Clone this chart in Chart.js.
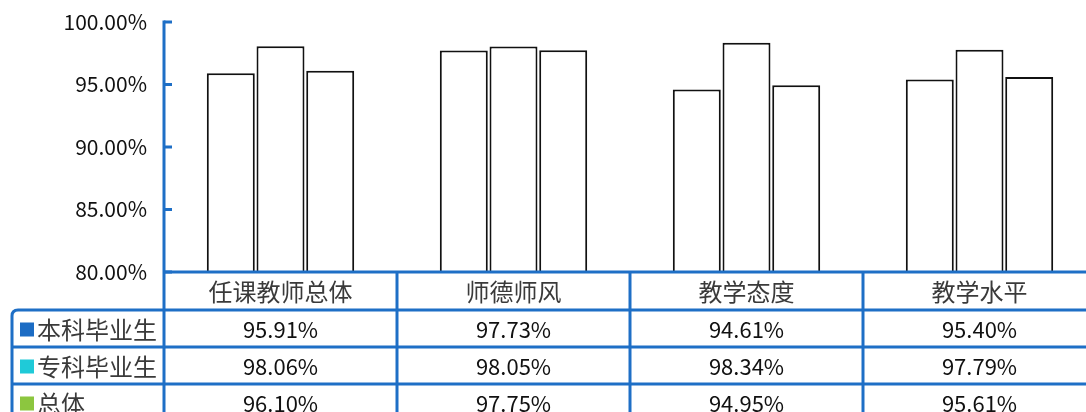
<!DOCTYPE html>
<html><head><meta charset="utf-8">
<script src="https://cdn.jsdelivr.net/npm/chart.js@4/dist/chart.umd.min.js"></script>
<style>
html,body{margin:0;padding:0;background:#fff;overflow:hidden;width:1086px;height:412px;}
#wrap{width:1100px;height:412px;position:relative;}
</style></head>
<body><div id="wrap"><canvas id="c"></canvas></div>
<script>
const categories = ['任课教师总体', '师德师风', '教学态度', '教学水平'];
const seriesNames = ['本科毕业生', '专科毕业生', '总体'];
const benke = [0.9591, 0.9773, 0.9461, 0.9540];
const zhuanke = [0.9806, 0.9805, 0.9834, 0.9779];
const zongti = [0.9610, 0.9775, 0.9495, 0.9561];
const legendColors = ['#1c6cc4', '#1fcad8', '#8cc63f'];
const yTicks = [0.80, 0.85, 0.90, 0.95, 1.00];

const BLUE = '#1e6fc6';
const FONT = '"Noto Sans CJK SC", "Liberation Sans", sans-serif';
const fmt = v => (v * 100).toFixed(2) + '%';

const tablePlugin = {
  id: 'dataTable',
  afterDraw(chart) {
    const ctx = chart.ctx;
    const ca = chart.chartArea;
    const x = chart.scales.x, y = chart.scales.y;
    const n = categories.length;
    const cw = (ca.right - ca.left) / n;
    const rowTop = ca.bottom;
    const headerH = 38, rowH = 37;
    const legLeft = 12;
    ctx.save();
    ctx.strokeStyle = BLUE;
    ctx.lineWidth = 3;
    ctx.lineCap = 'butt';
    ctx.beginPath();
    ctx.moveTo(ca.left, y.getPixelForValue(1.0) - 1.5);
    ctx.lineTo(ca.left, 412);
    ctx.stroke();
    yTicks.forEach(t => {
      const py = y.getPixelForValue(t);
      ctx.beginPath();
      ctx.moveTo(ca.left, py);
      ctx.lineTo(ca.left + 8, py);
      ctx.stroke();
    });
    ctx.beginPath();
    ctx.moveTo(ca.left, rowTop);
    ctx.lineTo(ca.right + 10, rowTop);
    ctx.stroke();
    for (let i = 1; i <= n; i++) {
      const px = ca.left + i * cw;
      ctx.beginPath();
      ctx.moveTo(px, rowTop);
      ctx.lineTo(px, 412);
      ctx.stroke();
    }
    for (let r = 0; r < seriesNames.length; r++) {
      const py = rowTop + headerH + r * rowH;
      ctx.beginPath();
      ctx.moveTo(r === 0 ? legLeft + 6 : legLeft, py);
      ctx.lineTo(ca.right + 10, py);
      ctx.stroke();
    }
    const t0 = rowTop + headerH;
    ctx.beginPath();
    ctx.moveTo(legLeft, 412);
    ctx.lineTo(legLeft, t0 + 6);
    ctx.quadraticCurveTo(legLeft, t0, legLeft + 6, t0);
    ctx.stroke();

    ctx.textAlign = 'center';
    ctx.textBaseline = 'middle';
    ctx.fillStyle = '#3a3a3a';
    ctx.font = '24px ' + FONT;
    categories.forEach((c, i) => {
      ctx.fillText(c, x.getPixelForValue(i), rowTop + headerH / 2 + 1);
    });
    ctx.fillStyle = '#111';
    ctx.font = '22px ' + FONT;
    chart.data.datasets.forEach((ds, r) => {
      const cy = rowTop + headerH + r * rowH + rowH / 2 + 1;
      ds.data.forEach((v, i) => {
        ctx.fillText(fmt(v), x.getPixelForValue(i), cy);
      });
    });
    ctx.textAlign = 'left';
    ctx.font = '24px ' + FONT;
    seriesNames.forEach((s, r) => {
      const cy = rowTop + headerH + r * rowH + rowH / 2 + 1;
      ctx.fillStyle = legendColors[r];
      ctx.fillRect(20, cy - 7, 14, 14);
      ctx.fillStyle = '#3a3a3a';
      ctx.fillText(s, 37, cy);
    });
    ctx.restore();
  }
};

const mk = (label, data) => ({
  label, data,
  backgroundColor: '#ffffff',
  borderColor: '#111111',
  borderWidth: 2,
  barPercentage: 0.965,
  categoryPercentage: 0.64
});

new Chart(document.getElementById('c'), {
  type: 'bar',
  data: {
    labels: categories,
    datasets: [mk(seriesNames[0], benke), mk(seriesNames[1], zhuanke), mk(seriesNames[2], zongti)]
  },
  options: {
    responsive: true,
    maintainAspectRatio: false,
    animation: false,
    layout: { padding: { top: 22, bottom: 140, right: 4, left: 0 } },
    plugins: { legend: { display: false }, tooltip: { enabled: false } },
    scales: {
      x: { display: false },
      y: {
        min: 0.8, max: 1.0,
        afterBuildTicks: s => { s.ticks = yTicks.map(v => ({ value: v })); },
        afterFit: s => { s.width = 164; s.paddingTop = 0; s.paddingBottom = 0; },
        grid: { display: false, drawTicks: false },
        border: { display: false },
        ticks: {
          padding: 17,
          color: '#111',
          font: { size: 21, family: FONT },
          callback: v => fmt(v)
        }
      }
    }
  },
  plugins: [tablePlugin]
});
</script>
</body></html>
